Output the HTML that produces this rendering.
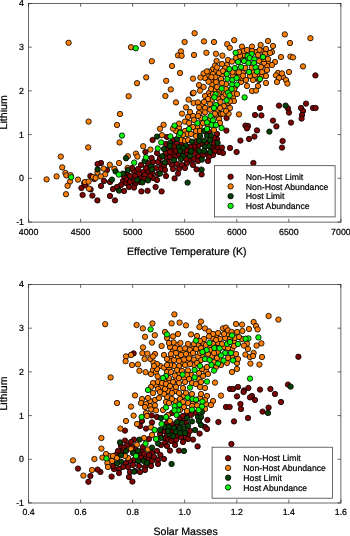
<!DOCTYPE html>
<html><head><meta charset="utf-8"><title>Lithium plots</title>
<style>html,body{margin:0;padding:0;background:#fff}svg{display:block;will-change:transform}</style></head>
<body>
<svg width="350" height="536" viewBox="0 0 350 536">
<style>
text{font-family:"Liberation Sans",sans-serif;fill:#000;stroke:#000;stroke-width:0.22px;text-rendering:geometricPrecision}
.txt{opacity:0.999}
.tk{font-size:8.8px}.lt{font-size:8.7px}.ax{font-size:10.6px}
circle{stroke:#000;stroke-width:0.8}
</style>
<rect width="350" height="536" fill="#fff" stroke="none"/>
<g><g fill="#7f0505"><circle cx="209.0" cy="132.0" r="2.7"/><circle cx="173.0" cy="140.0" r="2.7"/><circle cx="207.0" cy="143.0" r="2.7"/><circle cx="166.0" cy="144.0" r="2.7"/><circle cx="181.0" cy="144.0" r="2.7"/><circle cx="201.0" cy="144.0" r="2.7"/><circle cx="198.0" cy="146.0" r="2.7"/><circle cx="215.0" cy="147.0" r="2.7"/><circle cx="218.0" cy="148.0" r="2.7"/><circle cx="168.0" cy="149.0" r="2.7"/><circle cx="172.0" cy="149.0" r="2.7"/><circle cx="196.0" cy="149.0" r="2.7"/><circle cx="184.0" cy="152.0" r="2.7"/><circle cx="173.0" cy="154.0" r="2.7"/><circle cx="187.0" cy="154.0" r="2.7"/><circle cx="207.0" cy="154.0" r="2.7"/><circle cx="166.0" cy="157.0" r="2.7"/><circle cx="170.0" cy="157.0" r="2.7"/><circle cx="190.0" cy="160.0" r="2.7"/><circle cx="153.0" cy="162.0" r="2.7"/><circle cx="161.0" cy="164.0" r="2.7"/><circle cx="172.0" cy="165.0" r="2.7"/><circle cx="164.0" cy="166.0" r="2.7"/><circle cx="134.0" cy="171.0" r="2.7"/><circle cx="148.0" cy="171.0" r="2.7"/><circle cx="143.0" cy="172.0" r="2.7"/><circle cx="152.0" cy="173.0" r="2.7"/><circle cx="127.0" cy="174.0" r="2.7"/><circle cx="141.0" cy="177.0" r="2.7"/><circle cx="123.0" cy="181.0" r="2.7"/><circle cx="126.0" cy="183.0" r="2.7"/><circle cx="135.0" cy="184.0" r="2.7"/><circle cx="90.4" cy="176.0" r="2.7"/><circle cx="94.4" cy="179.0" r="2.7"/><circle cx="84.2" cy="183.0" r="2.7"/><circle cx="81.4" cy="188.0" r="2.7"/><circle cx="85.4" cy="185.2" r="2.7"/><circle cx="90.6" cy="189.4" r="2.7"/><circle cx="82.6" cy="195.0" r="2.7"/><circle cx="92.4" cy="195.6" r="2.7"/><circle cx="152.6" cy="140.0" r="2.7"/><circle cx="145.4" cy="152.0" r="2.7"/><circle cx="151.6" cy="158.0" r="2.7"/><circle cx="157.0" cy="153.0" r="2.7"/><circle cx="166.0" cy="153.0" r="2.7"/><circle cx="101.0" cy="163.0" r="2.7"/><circle cx="107.0" cy="170.0" r="2.7"/><circle cx="104.0" cy="181.0" r="2.7"/><circle cx="101.0" cy="186.0" r="2.7"/><circle cx="110.0" cy="182.0" r="2.7"/><circle cx="113.0" cy="189.0" r="2.7"/><circle cx="110.0" cy="196.0" r="2.7"/><circle cx="115.0" cy="200.4" r="2.7"/><circle cx="124.0" cy="191.0" r="2.7"/><circle cx="121.0" cy="185.0" r="2.7"/><circle cx="117.0" cy="187.0" r="2.7"/><circle cx="126.0" cy="179.0" r="2.7"/><circle cx="130.0" cy="176.0" r="2.7"/><circle cx="124.0" cy="176.0" r="2.7"/><circle cx="129.0" cy="187.0" r="2.7"/><circle cx="134.0" cy="187.6" r="2.7"/><circle cx="133.0" cy="181.0" r="2.7"/><circle cx="141.4" cy="191.4" r="2.7"/><circle cx="147.6" cy="190.8" r="2.7"/><circle cx="155.6" cy="187.0" r="2.7"/><circle cx="161.6" cy="191.4" r="2.7"/><circle cx="157.0" cy="180.0" r="2.7"/><circle cx="153.0" cy="178.0" r="2.7"/><circle cx="145.0" cy="175.0" r="2.7"/><circle cx="139.0" cy="174.0" r="2.7"/><circle cx="141.0" cy="165.0" r="2.7"/><circle cx="138.0" cy="169.0" r="2.7"/><circle cx="132.0" cy="168.0" r="2.7"/><circle cx="146.0" cy="168.0" r="2.7"/><circle cx="158.0" cy="162.0" r="2.7"/><circle cx="156.0" cy="168.0" r="2.7"/><circle cx="161.0" cy="169.0" r="2.7"/><circle cx="165.0" cy="170.0" r="2.7"/><circle cx="160.0" cy="158.0" r="2.7"/><circle cx="148.0" cy="163.0" r="2.7"/><circle cx="144.0" cy="179.0" r="2.7"/><circle cx="150.0" cy="176.0" r="2.7"/><circle cx="135.0" cy="176.0" r="2.7"/><circle cx="130.0" cy="182.0" r="2.7"/><circle cx="140.0" cy="182.0" r="2.7"/><circle cx="158.0" cy="174.0" r="2.7"/><circle cx="166.0" cy="176.0" r="2.7"/><circle cx="192.8" cy="93.4" r="2.7"/><circle cx="226.6" cy="118.0" r="2.7"/><circle cx="226.4" cy="130.6" r="2.7"/><circle cx="217.0" cy="134.0" r="2.7"/><circle cx="217.0" cy="139.0" r="2.7"/><circle cx="214.0" cy="143.0" r="2.7"/><circle cx="222.0" cy="147.6" r="2.7"/><circle cx="230.0" cy="148.0" r="2.7"/><circle cx="219.0" cy="152.0" r="2.7"/><circle cx="223.0" cy="153.0" r="2.7"/><circle cx="215.0" cy="151.0" r="2.7"/><circle cx="211.0" cy="147.0" r="2.7"/><circle cx="213.0" cy="155.0" r="2.7"/><circle cx="209.0" cy="157.0" r="2.7"/><circle cx="208.0" cy="161.0" r="2.7"/><circle cx="198.0" cy="156.0" r="2.7"/><circle cx="195.0" cy="153.0" r="2.7"/><circle cx="194.0" cy="159.0" r="2.7"/><circle cx="198.0" cy="161.0" r="2.7"/><circle cx="193.0" cy="165.0" r="2.7"/><circle cx="187.0" cy="163.0" r="2.7"/><circle cx="186.0" cy="159.0" r="2.7"/><circle cx="178.0" cy="155.0" r="2.7"/><circle cx="175.0" cy="157.0" r="2.7"/><circle cx="170.0" cy="152.0" r="2.7"/><circle cx="176.0" cy="151.0" r="2.7"/><circle cx="177.0" cy="164.0" r="2.7"/><circle cx="182.0" cy="165.0" r="2.7"/><circle cx="185.0" cy="168.0" r="2.7"/><circle cx="179.0" cy="169.0" r="2.7"/><circle cx="173.0" cy="169.0" r="2.7"/><circle cx="178.0" cy="173.6" r="2.7"/><circle cx="174.6" cy="178.4" r="2.7"/><circle cx="196.6" cy="169.4" r="2.7"/><circle cx="201.6" cy="174.4" r="2.7"/><circle cx="194.0" cy="146.0" r="2.7"/><circle cx="196.0" cy="142.0" r="2.7"/><circle cx="187.0" cy="150.0" r="2.7"/><circle cx="174.0" cy="146.0" r="2.7"/><circle cx="177.0" cy="143.0" r="2.7"/><circle cx="214.0" cy="138.0" r="2.7"/><circle cx="203.0" cy="155.0" r="2.7"/><circle cx="190.0" cy="147.0" r="2.7"/><circle cx="260.0" cy="108.0" r="2.7"/><circle cx="279.0" cy="105.6" r="2.7"/><circle cx="301.0" cy="108.0" r="2.7"/><circle cx="306.0" cy="103.6" r="2.7"/><circle cx="315.4" cy="75.4" r="2.7"/><circle cx="313.0" cy="108.0" r="2.7"/><circle cx="315.6" cy="108.0" r="2.7"/><circle cx="288.0" cy="108.4" r="2.7"/><circle cx="289.0" cy="112.6" r="2.7"/><circle cx="303.0" cy="111.0" r="2.7"/><circle cx="302.0" cy="115.0" r="2.7"/><circle cx="301.6" cy="118.6" r="2.7"/><circle cx="255.0" cy="115.0" r="2.7"/><circle cx="261.4" cy="115.4" r="2.7"/><circle cx="273.0" cy="120.6" r="2.7"/><circle cx="291.0" cy="122.6" r="2.7"/><circle cx="276.4" cy="126.4" r="2.7"/><circle cx="245.4" cy="125.6" r="2.7"/><circle cx="248.0" cy="126.0" r="2.7"/><circle cx="247.0" cy="128.4" r="2.7"/><circle cx="257.0" cy="130.4" r="2.7"/><circle cx="254.4" cy="136.6" r="2.7"/><circle cx="249.0" cy="139.0" r="2.7"/><circle cx="240.4" cy="140.6" r="2.7"/><circle cx="282.6" cy="141.0" r="2.7"/><circle cx="282.0" cy="147.6" r="2.7"/><circle cx="253.4" cy="163.0" r="2.7"/><circle cx="97.4" cy="200.4" r="2.7"/><circle cx="97.6" cy="164.0" r="2.7"/><circle cx="167.0" cy="137.0" r="2.7"/><circle cx="236.6" cy="152.0" r="2.7"/><circle cx="168.0" cy="162.0" r="2.7"/></g>
<g fill="#fb7f08"><circle cx="263.0" cy="51.0" r="2.7"/><circle cx="256.0" cy="52.0" r="2.7"/><circle cx="244.0" cy="55.0" r="2.7"/><circle cx="236.0" cy="58.0" r="2.7"/><circle cx="259.0" cy="61.0" r="2.7"/><circle cx="268.0" cy="63.0" r="2.7"/><circle cx="227.0" cy="65.0" r="2.7"/><circle cx="267.0" cy="66.0" r="2.7"/><circle cx="225.0" cy="68.0" r="2.7"/><circle cx="213.0" cy="69.0" r="2.7"/><circle cx="216.0" cy="71.0" r="2.7"/><circle cx="253.0" cy="72.0" r="2.7"/><circle cx="208.0" cy="75.0" r="2.7"/><circle cx="222.0" cy="75.0" r="2.7"/><circle cx="259.0" cy="75.0" r="2.7"/><circle cx="233.0" cy="76.0" r="2.7"/><circle cx="262.0" cy="76.0" r="2.7"/><circle cx="283.0" cy="77.0" r="2.7"/><circle cx="205.0" cy="78.0" r="2.7"/><circle cx="241.0" cy="82.0" r="2.7"/><circle cx="212.0" cy="84.0" r="2.7"/><circle cx="226.0" cy="84.0" r="2.7"/><circle cx="215.0" cy="90.0" r="2.7"/><circle cx="223.0" cy="92.0" r="2.7"/><circle cx="209.0" cy="93.0" r="2.7"/><circle cx="210.0" cy="96.0" r="2.7"/><circle cx="233.0" cy="97.0" r="2.7"/><circle cx="218.0" cy="98.0" r="2.7"/><circle cx="212.0" cy="100.0" r="2.7"/><circle cx="202.0" cy="105.0" r="2.7"/><circle cx="202.0" cy="110.0" r="2.7"/><circle cx="217.0" cy="110.0" r="2.7"/><circle cx="193.0" cy="116.0" r="2.7"/><circle cx="200.0" cy="126.0" r="2.7"/><circle cx="197.0" cy="127.0" r="2.7"/><circle cx="179.0" cy="128.0" r="2.7"/><circle cx="176.0" cy="131.0" r="2.7"/><circle cx="185.0" cy="131.0" r="2.7"/><circle cx="196.0" cy="131.0" r="2.7"/><circle cx="187.0" cy="134.0" r="2.7"/><circle cx="68.6" cy="42.8" r="2.7"/><circle cx="88.6" cy="121.6" r="2.7"/><circle cx="88.2" cy="147.4" r="2.7"/><circle cx="60.8" cy="156.6" r="2.7"/><circle cx="62.2" cy="167.4" r="2.7"/><circle cx="65.4" cy="173.0" r="2.7"/><circle cx="66.4" cy="175.4" r="2.7"/><circle cx="70.6" cy="175.2" r="2.7"/><circle cx="56.6" cy="176.4" r="2.7"/><circle cx="46.6" cy="179.4" r="2.7"/><circle cx="78.0" cy="179.6" r="2.7"/><circle cx="70.0" cy="181.6" r="2.7"/><circle cx="67.6" cy="185.8" r="2.7"/><circle cx="66.0" cy="194.2" r="2.7"/><circle cx="93.0" cy="177.0" r="2.7"/><circle cx="95.6" cy="178.0" r="2.7"/><circle cx="85.0" cy="182.0" r="2.7"/><circle cx="88.6" cy="181.6" r="2.7"/><circle cx="89.0" cy="188.6" r="2.7"/><circle cx="131.0" cy="47.2" r="2.7"/><circle cx="142.8" cy="43.8" r="2.7"/><circle cx="151.8" cy="61.2" r="2.7"/><circle cx="146.2" cy="77.4" r="2.7"/><circle cx="137.0" cy="83.2" r="2.7"/><circle cx="128.6" cy="96.2" r="2.7"/><circle cx="166.2" cy="80.8" r="2.7"/><circle cx="165.4" cy="96.0" r="2.7"/><circle cx="120.0" cy="114.0" r="2.7"/><circle cx="117.0" cy="125.0" r="2.7"/><circle cx="119.6" cy="142.4" r="2.7"/><circle cx="163.6" cy="124.8" r="2.7"/><circle cx="160.0" cy="128.8" r="2.7"/><circle cx="162.0" cy="135.2" r="2.7"/><circle cx="143.2" cy="146.2" r="2.7"/><circle cx="150.4" cy="149.6" r="2.7"/><circle cx="136.0" cy="153.6" r="2.7"/><circle cx="137.4" cy="156.6" r="2.7"/><circle cx="127.8" cy="156.2" r="2.7"/><circle cx="119.0" cy="163.0" r="2.7"/><circle cx="109.8" cy="164.8" r="2.7"/><circle cx="103.6" cy="168.6" r="2.7"/><circle cx="114.4" cy="168.8" r="2.7"/><circle cx="105.2" cy="174.4" r="2.7"/><circle cx="100.8" cy="176.4" r="2.7"/><circle cx="127.6" cy="168.0" r="2.7"/><circle cx="194.6" cy="33.2" r="2.7"/><circle cx="184.6" cy="42.0" r="2.7"/><circle cx="204.0" cy="41.4" r="2.7"/><circle cx="214.0" cy="42.0" r="2.7"/><circle cx="234.2" cy="40.2" r="2.7"/><circle cx="227.2" cy="44.2" r="2.7"/><circle cx="229.8" cy="47.8" r="2.7"/><circle cx="181.0" cy="51.4" r="2.7"/><circle cx="178.0" cy="55.4" r="2.7"/><circle cx="181.6" cy="55.8" r="2.7"/><circle cx="194.0" cy="55.0" r="2.7"/><circle cx="206.4" cy="52.8" r="2.7"/><circle cx="216.0" cy="53.8" r="2.7"/><circle cx="222.4" cy="55.6" r="2.7"/><circle cx="172.0" cy="66.0" r="2.7"/><circle cx="180.0" cy="73.0" r="2.7"/><circle cx="170.8" cy="89.4" r="2.7"/><circle cx="193.0" cy="78.6" r="2.7"/><circle cx="193.6" cy="92.8" r="2.7"/><circle cx="176.0" cy="102.4" r="2.7"/><circle cx="188.6" cy="99.6" r="2.7"/><circle cx="186.0" cy="107.4" r="2.7"/><circle cx="193.6" cy="103.0" r="2.7"/><circle cx="198.0" cy="102.4" r="2.7"/><circle cx="203.6" cy="73.4" r="2.7"/><circle cx="200.4" cy="77.6" r="2.7"/><circle cx="209.0" cy="71.6" r="2.7"/><circle cx="213.0" cy="74.0" r="2.7"/><circle cx="219.0" cy="73.0" r="2.7"/><circle cx="211.0" cy="80.0" r="2.7"/><circle cx="216.0" cy="82.0" r="2.7"/><circle cx="221.0" cy="79.0" r="2.7"/><circle cx="216.6" cy="61.0" r="2.7"/><circle cx="215.0" cy="65.6" r="2.7"/><circle cx="222.0" cy="64.0" r="2.7"/><circle cx="217.0" cy="67.4" r="2.7"/><circle cx="228.0" cy="60.0" r="2.7"/><circle cx="232.0" cy="61.6" r="2.7"/><circle cx="199.0" cy="85.0" r="2.7"/><circle cx="203.6" cy="87.0" r="2.7"/><circle cx="200.0" cy="90.6" r="2.7"/><circle cx="205.0" cy="96.0" r="2.7"/><circle cx="211.0" cy="89.0" r="2.7"/><circle cx="213.0" cy="94.0" r="2.7"/><circle cx="208.0" cy="99.0" r="2.7"/><circle cx="204.0" cy="102.0" r="2.7"/><circle cx="199.0" cy="107.4" r="2.7"/><circle cx="205.0" cy="108.0" r="2.7"/><circle cx="210.0" cy="104.0" r="2.7"/><circle cx="217.0" cy="87.0" r="2.7"/><circle cx="222.0" cy="83.0" r="2.7"/><circle cx="219.0" cy="92.0" r="2.7"/><circle cx="223.0" cy="97.0" r="2.7"/><circle cx="220.4" cy="102.0" r="2.7"/><circle cx="224.0" cy="106.0" r="2.7"/><circle cx="228.0" cy="103.0" r="2.7"/><circle cx="220.0" cy="108.0" r="2.7"/><circle cx="226.0" cy="89.0" r="2.7"/><circle cx="236.0" cy="72.0" r="2.7"/><circle cx="235.0" cy="87.0" r="2.7"/><circle cx="234.0" cy="101.0" r="2.7"/><circle cx="230.0" cy="108.0" r="2.7"/><circle cx="225.0" cy="72.0" r="2.7"/><circle cx="182.0" cy="113.6" r="2.7"/><circle cx="190.0" cy="112.0" r="2.7"/><circle cx="199.0" cy="113.0" r="2.7"/><circle cx="205.0" cy="112.4" r="2.7"/><circle cx="221.0" cy="114.0" r="2.7"/><circle cx="188.0" cy="117.0" r="2.7"/><circle cx="194.0" cy="120.0" r="2.7"/><circle cx="185.0" cy="121.6" r="2.7"/><circle cx="179.0" cy="123.6" r="2.7"/><circle cx="173.0" cy="128.6" r="2.7"/><circle cx="193.0" cy="127.0" r="2.7"/><circle cx="200.0" cy="131.0" r="2.7"/><circle cx="191.0" cy="134.0" r="2.7"/><circle cx="196.0" cy="136.0" r="2.7"/><circle cx="183.0" cy="135.0" r="2.7"/><circle cx="181.0" cy="140.0" r="2.7"/><circle cx="185.0" cy="141.0" r="2.7"/><circle cx="188.0" cy="140.0" r="2.7"/><circle cx="214.0" cy="130.0" r="2.7"/><circle cx="219.0" cy="119.0" r="2.7"/><circle cx="220.0" cy="123.0" r="2.7"/><circle cx="216.0" cy="115.0" r="2.7"/><circle cx="210.0" cy="119.0" r="2.7"/><circle cx="201.0" cy="118.0" r="2.7"/><circle cx="203.0" cy="123.0" r="2.7"/><circle cx="208.0" cy="126.0" r="2.7"/><circle cx="189.0" cy="123.0" r="2.7"/><circle cx="198.0" cy="116.0" r="2.7"/><circle cx="180.0" cy="132.4" r="2.7"/><circle cx="284.8" cy="34.4" r="2.7"/><circle cx="290.0" cy="43.0" r="2.7"/><circle cx="268.0" cy="41.0" r="2.7"/><circle cx="273.0" cy="46.0" r="2.7"/><circle cx="260.6" cy="45.0" r="2.7"/><circle cx="252.0" cy="46.6" r="2.7"/><circle cx="242.0" cy="46.6" r="2.7"/><circle cx="266.0" cy="49.0" r="2.7"/><circle cx="259.6" cy="50.0" r="2.7"/><circle cx="272.0" cy="52.0" r="2.7"/><circle cx="281.0" cy="57.0" r="2.7"/><circle cx="290.4" cy="56.6" r="2.7"/><circle cx="293.0" cy="57.4" r="2.7"/><circle cx="303.0" cy="66.4" r="2.7"/><circle cx="275.0" cy="62.0" r="2.7"/><circle cx="272.0" cy="65.0" r="2.7"/><circle cx="264.0" cy="63.0" r="2.7"/><circle cx="267.0" cy="70.0" r="2.7"/><circle cx="266.0" cy="76.0" r="2.7"/><circle cx="266.0" cy="83.0" r="2.7"/><circle cx="278.0" cy="73.0" r="2.7"/><circle cx="282.0" cy="73.4" r="2.7"/><circle cx="289.0" cy="72.0" r="2.7"/><circle cx="276.0" cy="75.4" r="2.7"/><circle cx="279.0" cy="78.0" r="2.7"/><circle cx="286.0" cy="80.0" r="2.7"/><circle cx="287.4" cy="83.6" r="2.7"/><circle cx="277.0" cy="82.0" r="2.7"/><circle cx="259.0" cy="80.0" r="2.7"/><circle cx="258.0" cy="86.0" r="2.7"/><circle cx="252.0" cy="91.0" r="2.7"/><circle cx="256.0" cy="90.6" r="2.7"/><circle cx="247.0" cy="86.0" r="2.7"/><circle cx="246.0" cy="80.0" r="2.7"/><circle cx="241.0" cy="78.0" r="2.7"/><circle cx="253.0" cy="80.0" r="2.7"/><circle cx="244.0" cy="51.0" r="2.7"/><circle cx="240.0" cy="56.0" r="2.7"/><circle cx="247.0" cy="50.0" r="2.7"/><circle cx="243.0" cy="60.0" r="2.7"/><circle cx="261.0" cy="67.0" r="2.7"/><circle cx="264.0" cy="59.0" r="2.7"/><circle cx="268.0" cy="59.0" r="2.7"/><circle cx="258.0" cy="55.0" r="2.7"/><circle cx="265.0" cy="54.0" r="2.7"/><circle cx="252.0" cy="51.0" r="2.7"/><circle cx="262.0" cy="72.0" r="2.7"/><circle cx="250.0" cy="76.0" r="2.7"/><circle cx="243.0" cy="73.0" r="2.7"/><circle cx="255.0" cy="75.0" r="2.7"/><circle cx="270.0" cy="53.0" r="2.7"/><circle cx="310.4" cy="38.2" r="2.7"/><circle cx="232.6" cy="72.0" r="2.7"/><circle cx="238.9" cy="77.1" r="2.7"/><circle cx="234.3" cy="89.1" r="2.7"/><circle cx="233.7" cy="93.4" r="2.7"/><circle cx="215.4" cy="77.1" r="2.7"/><circle cx="208.6" cy="81.7" r="2.7"/><circle cx="229.9" cy="101.4" r="2.7"/><circle cx="210.1" cy="109.7" r="2.7"/><circle cx="222.9" cy="70.9" r="2.7"/><circle cx="211.4" cy="77.1" r="2.7"/><circle cx="206.9" cy="71.4" r="2.7"/><circle cx="225.7" cy="94.3" r="2.7"/><circle cx="217.7" cy="94.3" r="2.7"/><circle cx="222.9" cy="113.7" r="2.7"/><circle cx="228.6" cy="113.7" r="2.7"/><circle cx="214.9" cy="113.7" r="2.7"/><circle cx="245.1" cy="67.9" r="2.7"/><circle cx="252.0" cy="67.7" r="2.7"/><circle cx="242.9" cy="75.7" r="2.7"/><circle cx="238.9" cy="72.3" r="2.7"/><circle cx="97.4" cy="172.4" r="2.7"/><circle cx="237.0" cy="94.0" r="2.7"/><circle cx="226.0" cy="111.0" r="2.7"/><circle cx="239.0" cy="52.0" r="2.7"/><circle cx="239.0" cy="114.4" r="2.7"/></g>
<g fill="#064206"><circle cx="157.0" cy="136.6" r="2.7"/><circle cx="126.0" cy="158.2" r="2.7"/><circle cx="164.0" cy="149.0" r="2.7"/><circle cx="162.4" cy="156.0" r="2.7"/><circle cx="164.8" cy="162.4" r="2.7"/><circle cx="151.0" cy="166.4" r="2.7"/><circle cx="152.0" cy="169.4" r="2.7"/><circle cx="144.6" cy="161.0" r="2.7"/><circle cx="128.0" cy="170.0" r="2.7"/><circle cx="115.6" cy="171.4" r="2.7"/><circle cx="112.0" cy="179.6" r="2.7"/><circle cx="123.0" cy="173.6" r="2.7"/><circle cx="137.0" cy="180.0" r="2.7"/><circle cx="142.4" cy="182.4" r="2.7"/><circle cx="148.0" cy="180.4" r="2.7"/><circle cx="160.0" cy="173.6" r="2.7"/><circle cx="119.0" cy="190.6" r="2.7"/><circle cx="204.0" cy="131.0" r="2.7"/><circle cx="200.0" cy="136.0" r="2.7"/><circle cx="207.0" cy="135.6" r="2.7"/><circle cx="211.0" cy="135.6" r="2.7"/><circle cx="199.0" cy="141.0" r="2.7"/><circle cx="204.0" cy="140.6" r="2.7"/><circle cx="210.0" cy="140.0" r="2.7"/><circle cx="192.0" cy="141.6" r="2.7"/><circle cx="177.0" cy="139.0" r="2.7"/><circle cx="170.0" cy="143.0" r="2.7"/><circle cx="170.0" cy="146.0" r="2.7"/><circle cx="186.0" cy="145.6" r="2.7"/><circle cx="179.0" cy="147.0" r="2.7"/><circle cx="183.0" cy="148.0" r="2.7"/><circle cx="180.0" cy="151.0" r="2.7"/><circle cx="191.0" cy="151.0" r="2.7"/><circle cx="199.0" cy="151.0" r="2.7"/><circle cx="205.0" cy="147.0" r="2.7"/><circle cx="204.0" cy="151.0" r="2.7"/><circle cx="209.0" cy="146.0" r="2.7"/><circle cx="210.0" cy="152.0" r="2.7"/><circle cx="183.0" cy="156.0" r="2.7"/><circle cx="181.0" cy="159.0" r="2.7"/><circle cx="174.0" cy="160.0" r="2.7"/><circle cx="190.0" cy="156.0" r="2.7"/><circle cx="202.0" cy="159.6" r="2.7"/><circle cx="201.6" cy="169.6" r="2.7"/><circle cx="187.6" cy="182.6" r="2.7"/><circle cx="217.6" cy="143.0" r="2.7"/><circle cx="285.6" cy="105.6" r="2.7"/><circle cx="269.4" cy="131.6" r="2.7"/><circle cx="97.6" cy="169.4" r="2.7"/></g>
<g fill="#0cf50c"><circle cx="71.2" cy="177.2" r="2.7"/><circle cx="135.8" cy="48.2" r="2.7"/><circle cx="122.0" cy="135.6" r="2.7"/><circle cx="161.2" cy="142.4" r="2.7"/><circle cx="157.8" cy="148.4" r="2.7"/><circle cx="146.0" cy="157.4" r="2.7"/><circle cx="134.2" cy="162.6" r="2.7"/><circle cx="118.8" cy="174.6" r="2.7"/><circle cx="235.6" cy="52.8" r="2.7"/><circle cx="229.4" cy="69.0" r="2.7"/><circle cx="235.0" cy="68.0" r="2.7"/><circle cx="226.8" cy="74.0" r="2.7"/><circle cx="227.4" cy="79.0" r="2.7"/><circle cx="232.4" cy="80.0" r="2.7"/><circle cx="232.0" cy="84.6" r="2.7"/><circle cx="221.6" cy="88.6" r="2.7"/><circle cx="231.6" cy="89.0" r="2.7"/><circle cx="228.0" cy="92.6" r="2.7"/><circle cx="215.6" cy="94.4" r="2.7"/><circle cx="229.6" cy="95.4" r="2.7"/><circle cx="214.4" cy="97.4" r="2.7"/><circle cx="226.6" cy="100.4" r="2.7"/><circle cx="216.0" cy="105.0" r="2.7"/><circle cx="214.0" cy="108.0" r="2.7"/><circle cx="210.6" cy="116.0" r="2.7"/><circle cx="205.0" cy="118.4" r="2.7"/><circle cx="213.0" cy="120.4" r="2.7"/><circle cx="207.0" cy="122.4" r="2.7"/><circle cx="197.4" cy="123.2" r="2.7"/><circle cx="211.6" cy="125.0" r="2.7"/><circle cx="216.0" cy="125.0" r="2.7"/><circle cx="174.6" cy="125.6" r="2.7"/><circle cx="189.0" cy="129.0" r="2.7"/><circle cx="207.0" cy="129.0" r="2.7"/><circle cx="221.6" cy="128.0" r="2.7"/><circle cx="179.0" cy="135.0" r="2.7"/><circle cx="170.4" cy="136.4" r="2.7"/><circle cx="251.6" cy="54.0" r="2.7"/><circle cx="263.0" cy="57.0" r="2.7"/><circle cx="247.6" cy="56.0" r="2.7"/><circle cx="249.6" cy="58.0" r="2.7"/><circle cx="254.4" cy="59.4" r="2.7"/><circle cx="244.0" cy="61.0" r="2.7"/><circle cx="248.4" cy="63.0" r="2.7"/><circle cx="254.0" cy="63.0" r="2.7"/><circle cx="241.0" cy="67.0" r="2.7"/><circle cx="255.6" cy="67.4" r="2.7"/><circle cx="249.0" cy="72.0" r="2.7"/><circle cx="257.0" cy="71.6" r="2.7"/><circle cx="260.0" cy="79.0" r="2.7"/><circle cx="244.6" cy="97.4" r="2.7"/><circle cx="180.2" cy="132.9" r="2.7"/><circle cx="238.0" cy="62.0" r="2.7"/><circle cx="236.6" cy="78.0" r="2.7"/><circle cx="237.0" cy="84.6" r="2.7"/></g></g>
<rect x="28.6" y="3.5" width="312.3" height="218.6" fill="none" stroke="#333" stroke-width="0.75"/>
<path d="M28.6 222.1v-3.3M28.6 3.5v3.3M80.6 222.1v-3.3M80.6 3.5v3.3M132.7 222.1v-3.3M132.7 3.5v3.3M184.7 222.1v-3.3M184.7 3.5v3.3M236.8 222.1v-3.3M236.8 3.5v3.3M288.8 222.1v-3.3M288.8 3.5v3.3M340.9 222.1v-3.3M340.9 3.5v3.3M28.6 222.1h3.3M340.9 222.1h-3.3M28.6 178.3h3.3M340.9 178.3h-3.3M28.6 134.6h3.3M340.9 134.6h-3.3M28.6 90.9h3.3M340.9 90.9h-3.3M28.6 47.2h3.3M340.9 47.2h-3.3M28.6 3.5h3.3M340.9 3.5h-3.3" stroke="#2a2a2a" stroke-width="0.7" fill="none"/>
<text x="28.6" y="234.5" text-anchor="middle" class="tk">4000</text>
<text x="80.6" y="234.5" text-anchor="middle" class="tk">4500</text>
<text x="132.7" y="234.5" text-anchor="middle" class="tk">5000</text>
<text x="184.7" y="234.5" text-anchor="middle" class="tk">5500</text>
<text x="236.8" y="234.5" text-anchor="middle" class="tk">6000</text>
<text x="288.8" y="234.5" text-anchor="middle" class="tk">6500</text>
<text x="340.9" y="234.5" text-anchor="middle" class="tk">7000</text>
<text x="24.0" y="225.0" text-anchor="end" class="tk">-1</text>
<text x="24.0" y="181.2" text-anchor="end" class="tk">0</text>
<text x="24.0" y="137.5" text-anchor="end" class="tk">1</text>
<text x="24.0" y="93.8" text-anchor="end" class="tk">2</text>
<text x="24.0" y="50.1" text-anchor="end" class="tk">3</text>
<text x="24.0" y="6.4" text-anchor="end" class="tk">4</text>
<rect x="214.6" y="165.7" width="120.5" height="51.2" fill="#fff" stroke="#333" stroke-width="0.75"/>
<circle cx="230.6" cy="176.7" r="2.7" fill="#7f0505" class="lg"/>
<text x="245.8" y="179.8" class="lt">Non-Host Limit</text>
<circle cx="230.6" cy="186.4" r="2.7" fill="#fb7f08" class="lg"/>
<text x="245.8" y="189.5" class="lt">Non-Host Abundance</text>
<circle cx="230.6" cy="196.2" r="2.7" fill="#064206" class="lg"/>
<text x="245.8" y="199.3" class="lt">Host Limit</text>
<circle cx="230.6" cy="205.9" r="2.7" fill="#0cf50c" class="lg"/>
<text x="245.8" y="209.0" class="lt">Host Abundance</text>
<text x="186.8" y="254.8" text-anchor="middle" class="ax">Effective Temperature (K)</text>
<text transform="translate(7.4 112.3) rotate(-90)" text-anchor="middle" class="ax">Lithium</text>
<g><g fill="#7f0505"><circle cx="191.0" cy="415.0" r="2.7"/><circle cx="180.0" cy="418.0" r="2.7"/><circle cx="184.0" cy="420.0" r="2.7"/><circle cx="186.0" cy="423.0" r="2.7"/><circle cx="172.0" cy="424.0" r="2.7"/><circle cx="177.0" cy="426.0" r="2.7"/><circle cx="164.0" cy="431.0" r="2.7"/><circle cx="172.0" cy="431.0" r="2.7"/><circle cx="188.0" cy="435.0" r="2.7"/><circle cx="177.0" cy="436.0" r="2.7"/><circle cx="185.0" cy="437.0" r="2.7"/><circle cx="165.0" cy="438.0" r="2.7"/><circle cx="168.0" cy="439.0" r="2.7"/><circle cx="135.0" cy="449.0" r="2.7"/><circle cx="122.0" cy="451.0" r="2.7"/><circle cx="142.0" cy="451.0" r="2.7"/><circle cx="152.0" cy="453.0" r="2.7"/><circle cx="146.0" cy="457.0" r="2.7"/><circle cx="149.0" cy="459.0" r="2.7"/><circle cx="134.0" cy="460.0" r="2.7"/><circle cx="78.0" cy="468.6" r="2.7"/><circle cx="90.4" cy="476.0" r="2.7"/><circle cx="88.4" cy="481.8" r="2.7"/><circle cx="133.6" cy="353.4" r="2.7"/><circle cx="151.6" cy="415.4" r="2.7"/><circle cx="157.0" cy="417.0" r="2.7"/><circle cx="142.0" cy="421.0" r="2.7"/><circle cx="152.0" cy="422.4" r="2.7"/><circle cx="140.0" cy="426.0" r="2.7"/><circle cx="146.0" cy="428.6" r="2.7"/><circle cx="125.0" cy="430.6" r="2.7"/><circle cx="160.0" cy="434.0" r="2.7"/><circle cx="149.0" cy="439.0" r="2.7"/><circle cx="134.0" cy="439.6" r="2.7"/><circle cx="125.0" cy="440.6" r="2.7"/><circle cx="131.0" cy="442.0" r="2.7"/><circle cx="121.0" cy="446.0" r="2.7"/><circle cx="127.0" cy="445.4" r="2.7"/><circle cx="143.0" cy="447.0" r="2.7"/><circle cx="165.0" cy="443.0" r="2.7"/><circle cx="161.0" cy="445.0" r="2.7"/><circle cx="157.0" cy="451.0" r="2.7"/><circle cx="124.0" cy="448.0" r="2.7"/><circle cx="132.0" cy="447.0" r="2.7"/><circle cx="118.0" cy="451.0" r="2.7"/><circle cx="116.0" cy="455.0" r="2.7"/><circle cx="140.0" cy="455.0" r="2.7"/><circle cx="144.0" cy="454.0" r="2.7"/><circle cx="149.0" cy="455.0" r="2.7"/><circle cx="154.0" cy="457.0" r="2.7"/><circle cx="160.4" cy="455.0" r="2.7"/><circle cx="164.0" cy="459.0" r="2.7"/><circle cx="158.0" cy="460.0" r="2.7"/><circle cx="152.0" cy="461.0" r="2.7"/><circle cx="158.0" cy="464.0" r="2.7"/><circle cx="151.0" cy="466.0" r="2.7"/><circle cx="145.0" cy="467.0" r="2.7"/><circle cx="141.0" cy="458.0" r="2.7"/><circle cx="130.0" cy="461.0" r="2.7"/><circle cx="133.0" cy="465.0" r="2.7"/><circle cx="126.0" cy="463.0" r="2.7"/><circle cx="128.0" cy="467.0" r="2.7"/><circle cx="123.0" cy="467.0" r="2.7"/><circle cx="139.0" cy="466.0" r="2.7"/><circle cx="145.0" cy="470.0" r="2.7"/><circle cx="140.0" cy="472.0" r="2.7"/><circle cx="130.0" cy="472.0" r="2.7"/><circle cx="119.0" cy="469.0" r="2.7"/><circle cx="114.0" cy="469.0" r="2.7"/><circle cx="119.0" cy="473.0" r="2.7"/><circle cx="111.6" cy="476.6" r="2.7"/><circle cx="100.4" cy="472.0" r="2.7"/><circle cx="129.0" cy="477.0" r="2.7"/><circle cx="132.4" cy="481.6" r="2.7"/><circle cx="135.0" cy="471.0" r="2.7"/><circle cx="113.0" cy="466.0" r="2.7"/><circle cx="230.0" cy="389.0" r="2.7"/><circle cx="233.0" cy="389.0" r="2.7"/><circle cx="226.0" cy="407.0" r="2.7"/><circle cx="229.6" cy="407.0" r="2.7"/><circle cx="207.4" cy="420.0" r="2.7"/><circle cx="218.4" cy="422.0" r="2.7"/><circle cx="234.0" cy="421.4" r="2.7"/><circle cx="205.0" cy="427.0" r="2.7"/><circle cx="207.0" cy="429.0" r="2.7"/><circle cx="199.6" cy="433.6" r="2.7"/><circle cx="193.0" cy="439.6" r="2.7"/><circle cx="188.0" cy="439.0" r="2.7"/><circle cx="183.0" cy="442.0" r="2.7"/><circle cx="197.6" cy="446.4" r="2.7"/><circle cx="231.4" cy="444.0" r="2.7"/><circle cx="179.0" cy="450.6" r="2.7"/><circle cx="170.0" cy="450.6" r="2.7"/><circle cx="175.0" cy="445.0" r="2.7"/><circle cx="176.0" cy="440.0" r="2.7"/><circle cx="171.0" cy="441.0" r="2.7"/><circle cx="186.0" cy="415.0" r="2.7"/><circle cx="172.0" cy="413.0" r="2.7"/><circle cx="190.0" cy="431.0" r="2.7"/><circle cx="181.0" cy="437.0" r="2.7"/><circle cx="196.0" cy="413.0" r="2.7"/><circle cx="183.0" cy="416.0" r="2.7"/><circle cx="298.4" cy="356.8" r="2.7"/><circle cx="288.0" cy="384.6" r="2.7"/><circle cx="270.4" cy="389.0" r="2.7"/><circle cx="248.4" cy="388.0" r="2.7"/><circle cx="244.0" cy="390.4" r="2.7"/><circle cx="243.6" cy="392.0" r="2.7"/><circle cx="260.0" cy="389.6" r="2.7"/><circle cx="275.0" cy="394.0" r="2.7"/><circle cx="252.0" cy="396.0" r="2.7"/><circle cx="250.0" cy="397.4" r="2.7"/><circle cx="255.0" cy="400.0" r="2.7"/><circle cx="281.0" cy="402.0" r="2.7"/><circle cx="240.4" cy="404.0" r="2.7"/><circle cx="241.0" cy="409.0" r="2.7"/><circle cx="268.6" cy="407.6" r="2.7"/><circle cx="262.6" cy="411.6" r="2.7"/><circle cx="248.0" cy="418.0" r="2.7"/><circle cx="97.6" cy="469.6" r="2.7"/><circle cx="167.0" cy="423.0" r="2.7"/><circle cx="167.0" cy="435.0" r="2.7"/><circle cx="167.0" cy="446.0" r="2.7"/><circle cx="238.0" cy="387.0" r="2.7"/><circle cx="237.0" cy="396.4" r="2.7"/></g>
<g fill="#fb7f08"><circle cx="237.0" cy="332.0" r="2.7"/><circle cx="228.0" cy="334.0" r="2.7"/><circle cx="216.0" cy="336.0" r="2.7"/><circle cx="213.0" cy="338.0" r="2.7"/><circle cx="225.0" cy="338.0" r="2.7"/><circle cx="234.0" cy="342.0" r="2.7"/><circle cx="203.0" cy="343.0" r="2.7"/><circle cx="218.0" cy="343.0" r="2.7"/><circle cx="177.0" cy="345.0" r="2.7"/><circle cx="198.0" cy="345.0" r="2.7"/><circle cx="209.0" cy="347.0" r="2.7"/><circle cx="224.0" cy="347.0" r="2.7"/><circle cx="193.0" cy="348.0" r="2.7"/><circle cx="196.0" cy="349.0" r="2.7"/><circle cx="232.0" cy="349.0" r="2.7"/><circle cx="211.0" cy="350.0" r="2.7"/><circle cx="173.0" cy="351.0" r="2.7"/><circle cx="183.0" cy="352.0" r="2.7"/><circle cx="218.0" cy="352.0" r="2.7"/><circle cx="190.0" cy="355.0" r="2.7"/><circle cx="202.0" cy="356.0" r="2.7"/><circle cx="212.0" cy="356.0" r="2.7"/><circle cx="178.0" cy="357.0" r="2.7"/><circle cx="232.0" cy="357.0" r="2.7"/><circle cx="171.0" cy="358.0" r="2.7"/><circle cx="201.0" cy="360.0" r="2.7"/><circle cx="220.0" cy="360.0" r="2.7"/><circle cx="170.0" cy="361.0" r="2.7"/><circle cx="187.0" cy="362.0" r="2.7"/><circle cx="214.0" cy="362.0" r="2.7"/><circle cx="182.0" cy="363.0" r="2.7"/><circle cx="194.0" cy="365.0" r="2.7"/><circle cx="160.0" cy="366.0" r="2.7"/><circle cx="169.0" cy="369.0" r="2.7"/><circle cx="206.0" cy="371.0" r="2.7"/><circle cx="167.0" cy="372.0" r="2.7"/><circle cx="179.0" cy="373.0" r="2.7"/><circle cx="191.0" cy="375.0" r="2.7"/><circle cx="184.0" cy="378.0" r="2.7"/><circle cx="199.0" cy="379.0" r="2.7"/><circle cx="166.0" cy="380.0" r="2.7"/><circle cx="176.0" cy="380.0" r="2.7"/><circle cx="169.0" cy="382.0" r="2.7"/><circle cx="156.0" cy="385.0" r="2.7"/><circle cx="161.0" cy="387.0" r="2.7"/><circle cx="173.0" cy="389.0" r="2.7"/><circle cx="168.0" cy="391.0" r="2.7"/><circle cx="176.0" cy="391.0" r="2.7"/><circle cx="184.0" cy="396.0" r="2.7"/><circle cx="167.0" cy="397.0" r="2.7"/><circle cx="200.0" cy="398.0" r="2.7"/><circle cx="150.0" cy="401.0" r="2.7"/><circle cx="175.0" cy="401.0" r="2.7"/><circle cx="193.0" cy="403.0" r="2.7"/><circle cx="206.0" cy="404.0" r="2.7"/><circle cx="150.0" cy="406.0" r="2.7"/><circle cx="192.0" cy="406.0" r="2.7"/><circle cx="184.0" cy="407.0" r="2.7"/><circle cx="109.0" cy="456.0" r="2.7"/><circle cx="73.0" cy="460.4" r="2.7"/><circle cx="94.4" cy="459.0" r="2.7"/><circle cx="92.0" cy="470.0" r="2.7"/><circle cx="83.4" cy="475.6" r="2.7"/><circle cx="105.2" cy="324.2" r="2.7"/><circle cx="110.6" cy="377.4" r="2.7"/><circle cx="136.6" cy="325.0" r="2.7"/><circle cx="152.4" cy="323.4" r="2.7"/><circle cx="142.8" cy="328.4" r="2.7"/><circle cx="154.8" cy="335.2" r="2.7"/><circle cx="145.0" cy="336.8" r="2.7"/><circle cx="152.0" cy="342.6" r="2.7"/><circle cx="161.6" cy="346.0" r="2.7"/><circle cx="143.0" cy="347.4" r="2.7"/><circle cx="142.4" cy="353.2" r="2.7"/><circle cx="147.4" cy="353.6" r="2.7"/><circle cx="155.0" cy="354.0" r="2.7"/><circle cx="164.0" cy="355.0" r="2.7"/><circle cx="131.0" cy="355.0" r="2.7"/><circle cx="126.0" cy="356.4" r="2.7"/><circle cx="125.6" cy="361.2" r="2.7"/><circle cx="144.6" cy="359.0" r="2.7"/><circle cx="150.4" cy="359.0" r="2.7"/><circle cx="153.0" cy="356.4" r="2.7"/><circle cx="132.0" cy="365.0" r="2.7"/><circle cx="138.0" cy="364.4" r="2.7"/><circle cx="153.6" cy="362.6" r="2.7"/><circle cx="157.0" cy="364.0" r="2.7"/><circle cx="164.0" cy="367.6" r="2.7"/><circle cx="139.4" cy="370.8" r="2.7"/><circle cx="145.6" cy="372.2" r="2.7"/><circle cx="151.0" cy="374.0" r="2.7"/><circle cx="153.0" cy="370.0" r="2.7"/><circle cx="156.0" cy="372.0" r="2.7"/><circle cx="157.0" cy="369.0" r="2.7"/><circle cx="157.6" cy="376.4" r="2.7"/><circle cx="165.0" cy="332.0" r="2.7"/><circle cx="153.0" cy="383.0" r="2.7"/><circle cx="151.0" cy="387.0" r="2.7"/><circle cx="158.0" cy="382.0" r="2.7"/><circle cx="162.0" cy="383.0" r="2.7"/><circle cx="166.0" cy="384.0" r="2.7"/><circle cx="158.0" cy="389.0" r="2.7"/><circle cx="165.0" cy="389.0" r="2.7"/><circle cx="154.0" cy="366.0" r="2.7"/><circle cx="117.0" cy="403.0" r="2.7"/><circle cx="131.0" cy="406.6" r="2.7"/><circle cx="133.6" cy="415.6" r="2.7"/><circle cx="126.0" cy="421.0" r="2.7"/><circle cx="120.4" cy="428.6" r="2.7"/><circle cx="101.4" cy="438.0" r="2.7"/><circle cx="101.4" cy="448.6" r="2.7"/><circle cx="106.0" cy="454.0" r="2.7"/><circle cx="102.4" cy="457.6" r="2.7"/><circle cx="113.0" cy="456.0" r="2.7"/><circle cx="117.0" cy="458.0" r="2.7"/><circle cx="112.0" cy="461.0" r="2.7"/><circle cx="107.4" cy="463.0" r="2.7"/><circle cx="108.0" cy="467.0" r="2.7"/><circle cx="128.0" cy="458.0" r="2.7"/><circle cx="125.0" cy="456.0" r="2.7"/><circle cx="131.0" cy="449.0" r="2.7"/><circle cx="137.0" cy="444.6" r="2.7"/><circle cx="135.0" cy="395.4" r="2.7"/><circle cx="142.0" cy="399.0" r="2.7"/><circle cx="148.0" cy="398.0" r="2.7"/><circle cx="141.0" cy="403.0" r="2.7"/><circle cx="146.0" cy="404.0" r="2.7"/><circle cx="145.0" cy="407.0" r="2.7"/><circle cx="155.0" cy="400.0" r="2.7"/><circle cx="159.0" cy="398.0" r="2.7"/><circle cx="164.0" cy="394.0" r="2.7"/><circle cx="155.0" cy="405.4" r="2.7"/><circle cx="151.0" cy="409.4" r="2.7"/><circle cx="156.0" cy="410.4" r="2.7"/><circle cx="163.0" cy="410.0" r="2.7"/><circle cx="146.0" cy="413.0" r="2.7"/><circle cx="147.0" cy="416.0" r="2.7"/><circle cx="137.0" cy="424.0" r="2.7"/><circle cx="151.0" cy="427.4" r="2.7"/><circle cx="152.0" cy="435.0" r="2.7"/><circle cx="144.0" cy="438.0" r="2.7"/><circle cx="148.0" cy="449.4" r="2.7"/><circle cx="153.0" cy="393.0" r="2.7"/><circle cx="166.0" cy="402.0" r="2.7"/><circle cx="174.4" cy="314.4" r="2.7"/><circle cx="171.6" cy="323.4" r="2.7"/><circle cx="179.6" cy="322.6" r="2.7"/><circle cx="186.0" cy="325.4" r="2.7"/><circle cx="201.0" cy="321.6" r="2.7"/><circle cx="199.4" cy="327.0" r="2.7"/><circle cx="205.0" cy="328.4" r="2.7"/><circle cx="178.0" cy="334.0" r="2.7"/><circle cx="173.0" cy="336.4" r="2.7"/><circle cx="191.0" cy="334.4" r="2.7"/><circle cx="209.0" cy="331.4" r="2.7"/><circle cx="213.0" cy="334.0" r="2.7"/><circle cx="218.0" cy="333.0" r="2.7"/><circle cx="223.0" cy="328.4" r="2.7"/><circle cx="226.0" cy="327.6" r="2.7"/><circle cx="228.0" cy="330.4" r="2.7"/><circle cx="236.0" cy="324.0" r="2.7"/><circle cx="224.0" cy="334.0" r="2.7"/><circle cx="231.6" cy="332.0" r="2.7"/><circle cx="235.0" cy="338.0" r="2.7"/><circle cx="220.0" cy="339.0" r="2.7"/><circle cx="216.0" cy="340.0" r="2.7"/><circle cx="209.0" cy="336.4" r="2.7"/><circle cx="204.0" cy="339.0" r="2.7"/><circle cx="200.0" cy="341.0" r="2.7"/><circle cx="197.0" cy="336.0" r="2.7"/><circle cx="194.0" cy="344.0" r="2.7"/><circle cx="188.0" cy="344.0" r="2.7"/><circle cx="180.4" cy="343.0" r="2.7"/><circle cx="173.6" cy="342.4" r="2.7"/><circle cx="170.0" cy="347.0" r="2.7"/><circle cx="175.0" cy="348.0" r="2.7"/><circle cx="180.0" cy="349.0" r="2.7"/><circle cx="185.0" cy="348.4" r="2.7"/><circle cx="190.0" cy="350.0" r="2.7"/><circle cx="193.0" cy="353.0" r="2.7"/><circle cx="186.0" cy="354.0" r="2.7"/><circle cx="181.0" cy="355.0" r="2.7"/><circle cx="176.0" cy="353.0" r="2.7"/><circle cx="171.0" cy="354.0" r="2.7"/><circle cx="174.0" cy="360.0" r="2.7"/><circle cx="179.0" cy="361.0" r="2.7"/><circle cx="184.0" cy="359.6" r="2.7"/><circle cx="189.0" cy="358.4" r="2.7"/><circle cx="194.0" cy="359.6" r="2.7"/><circle cx="198.0" cy="356.4" r="2.7"/><circle cx="197.0" cy="363.0" r="2.7"/><circle cx="190.0" cy="364.0" r="2.7"/><circle cx="185.0" cy="365.0" r="2.7"/><circle cx="179.0" cy="366.0" r="2.7"/><circle cx="174.0" cy="366.0" r="2.7"/><circle cx="170.0" cy="365.0" r="2.7"/><circle cx="177.0" cy="370.0" r="2.7"/><circle cx="182.0" cy="371.0" r="2.7"/><circle cx="188.0" cy="370.4" r="2.7"/><circle cx="171.0" cy="372.0" r="2.7"/><circle cx="175.0" cy="375.6" r="2.7"/><circle cx="187.0" cy="375.0" r="2.7"/><circle cx="179.0" cy="378.0" r="2.7"/><circle cx="189.0" cy="379.0" r="2.7"/><circle cx="185.0" cy="382.0" r="2.7"/><circle cx="179.0" cy="383.0" r="2.7"/><circle cx="173.0" cy="382.0" r="2.7"/><circle cx="170.0" cy="386.0" r="2.7"/><circle cx="176.0" cy="387.0" r="2.7"/><circle cx="183.0" cy="388.0" r="2.7"/><circle cx="192.0" cy="383.0" r="2.7"/><circle cx="196.0" cy="384.0" r="2.7"/><circle cx="201.0" cy="382.0" r="2.7"/><circle cx="200.0" cy="387.0" r="2.7"/><circle cx="205.0" cy="388.0" r="2.7"/><circle cx="215.0" cy="382.6" r="2.7"/><circle cx="203.0" cy="376.0" r="2.7"/><circle cx="199.0" cy="373.0" r="2.7"/><circle cx="208.0" cy="374.0" r="2.7"/><circle cx="202.0" cy="369.0" r="2.7"/><circle cx="207.0" cy="367.0" r="2.7"/><circle cx="216.0" cy="367.0" r="2.7"/><circle cx="221.0" cy="365.0" r="2.7"/><circle cx="227.0" cy="363.0" r="2.7"/><circle cx="232.0" cy="372.0" r="2.7"/><circle cx="236.0" cy="354.0" r="2.7"/><circle cx="234.0" cy="346.0" r="2.7"/><circle cx="228.0" cy="348.0" r="2.7"/><circle cx="213.0" cy="344.0" r="2.7"/><circle cx="206.0" cy="345.0" r="2.7"/><circle cx="201.0" cy="348.0" r="2.7"/><circle cx="200.0" cy="353.0" r="2.7"/><circle cx="208.0" cy="354.0" r="2.7"/><circle cx="214.0" cy="353.0" r="2.7"/><circle cx="217.0" cy="358.0" r="2.7"/><circle cx="228.0" cy="358.0" r="2.7"/><circle cx="222.0" cy="344.0" r="2.7"/><circle cx="230.0" cy="339.0" r="2.7"/><circle cx="215.0" cy="347.6" r="2.7"/><circle cx="221.0" cy="395.6" r="2.7"/><circle cx="213.0" cy="401.0" r="2.7"/><circle cx="211.0" cy="405.0" r="2.7"/><circle cx="207.0" cy="396.0" r="2.7"/><circle cx="205.0" cy="400.0" r="2.7"/><circle cx="201.0" cy="394.0" r="2.7"/><circle cx="192.0" cy="394.0" r="2.7"/><circle cx="186.0" cy="393.0" r="2.7"/><circle cx="179.0" cy="393.0" r="2.7"/><circle cx="172.0" cy="393.0" r="2.7"/><circle cx="172.0" cy="399.0" r="2.7"/><circle cx="180.0" cy="399.0" r="2.7"/><circle cx="183.0" cy="402.0" r="2.7"/><circle cx="197.0" cy="405.4" r="2.7"/><circle cx="205.0" cy="409.0" r="2.7"/><circle cx="170.0" cy="421.0" r="2.7"/><circle cx="196.0" cy="400.0" r="2.7"/><circle cx="188.0" cy="403.0" r="2.7"/><circle cx="180.0" cy="410.0" r="2.7"/><circle cx="187.0" cy="411.0" r="2.7"/><circle cx="268.6" cy="316.0" r="2.7"/><circle cx="278.4" cy="319.6" r="2.7"/><circle cx="253.6" cy="322.0" r="2.7"/><circle cx="242.0" cy="324.6" r="2.7"/><circle cx="256.0" cy="326.0" r="2.7"/><circle cx="249.0" cy="329.0" r="2.7"/><circle cx="257.6" cy="329.4" r="2.7"/><circle cx="242.4" cy="331.0" r="2.7"/><circle cx="242.0" cy="339.0" r="2.7"/><circle cx="261.4" cy="343.4" r="2.7"/><circle cx="247.0" cy="343.6" r="2.7"/><circle cx="256.6" cy="345.6" r="2.7"/><circle cx="244.0" cy="345.6" r="2.7"/><circle cx="248.0" cy="349.0" r="2.7"/><circle cx="253.6" cy="353.0" r="2.7"/><circle cx="245.4" cy="354.6" r="2.7"/><circle cx="250.0" cy="357.0" r="2.7"/><circle cx="253.0" cy="356.0" r="2.7"/><circle cx="262.0" cy="357.0" r="2.7"/><circle cx="250.4" cy="363.6" r="2.7"/><circle cx="259.4" cy="364.6" r="2.7"/><circle cx="167.0" cy="338.0" r="2.7"/><circle cx="167.0" cy="359.0" r="2.7"/><circle cx="167.0" cy="365.0" r="2.7"/><circle cx="160.0" cy="392.0" r="2.7"/><circle cx="169.0" cy="343.0" r="2.7"/><circle cx="169.0" cy="378.0" r="2.7"/><circle cx="237.0" cy="369.0" r="2.7"/><circle cx="237.0" cy="363.0" r="2.7"/><circle cx="169.0" cy="403.0" r="2.7"/><circle cx="168.0" cy="415.0" r="2.7"/><circle cx="239.0" cy="337.0" r="2.7"/><circle cx="238.0" cy="359.0" r="2.7"/></g>
<g fill="#064206"><circle cx="161.0" cy="418.0" r="2.7"/><circle cx="160.0" cy="430.0" r="2.7"/><circle cx="165.0" cy="427.0" r="2.7"/><circle cx="139.4" cy="439.6" r="2.7"/><circle cx="161.0" cy="438.0" r="2.7"/><circle cx="120.0" cy="442.4" r="2.7"/><circle cx="158.0" cy="443.4" r="2.7"/><circle cx="152.0" cy="447.6" r="2.7"/><circle cx="126.0" cy="451.0" r="2.7"/><circle cx="138.0" cy="451.0" r="2.7"/><circle cx="133.0" cy="453.0" r="2.7"/><circle cx="121.0" cy="455.0" r="2.7"/><circle cx="138.0" cy="461.0" r="2.7"/><circle cx="143.6" cy="461.0" r="2.7"/><circle cx="147.0" cy="463.0" r="2.7"/><circle cx="121.0" cy="461.6" r="2.7"/><circle cx="117.0" cy="463.6" r="2.7"/><circle cx="134.0" cy="471.6" r="2.7"/><circle cx="202.0" cy="412.0" r="2.7"/><circle cx="198.0" cy="417.0" r="2.7"/><circle cx="201.0" cy="417.0" r="2.7"/><circle cx="187.0" cy="418.0" r="2.7"/><circle cx="192.0" cy="421.4" r="2.7"/><circle cx="199.0" cy="421.0" r="2.7"/><circle cx="177.0" cy="422.0" r="2.7"/><circle cx="182.0" cy="423.0" r="2.7"/><circle cx="201.0" cy="425.0" r="2.7"/><circle cx="188.0" cy="426.0" r="2.7"/><circle cx="174.0" cy="428.0" r="2.7"/><circle cx="180.0" cy="428.0" r="2.7"/><circle cx="184.0" cy="429.0" r="2.7"/><circle cx="195.0" cy="430.0" r="2.7"/><circle cx="176.0" cy="432.0" r="2.7"/><circle cx="180.0" cy="433.0" r="2.7"/><circle cx="185.0" cy="433.0" r="2.7"/><circle cx="173.0" cy="436.0" r="2.7"/><circle cx="184.0" cy="451.0" r="2.7"/><circle cx="171.6" cy="464.0" r="2.7"/><circle cx="290.6" cy="386.6" r="2.7"/><circle cx="268.0" cy="413.0" r="2.7"/><circle cx="169.0" cy="427.0" r="2.7"/><circle cx="169.0" cy="434.0" r="2.7"/><circle cx="168.0" cy="431.0" r="2.7"/></g>
<g fill="#0cf50c"><circle cx="150.6" cy="329.4" r="2.7"/><circle cx="166.0" cy="376.0" r="2.7"/><circle cx="163.0" cy="378.0" r="2.7"/><circle cx="166.0" cy="407.4" r="2.7"/><circle cx="141.6" cy="417.0" r="2.7"/><circle cx="166.0" cy="417.0" r="2.7"/><circle cx="161.6" cy="424.0" r="2.7"/><circle cx="154.6" cy="430.0" r="2.7"/><circle cx="156.0" cy="439.0" r="2.7"/><circle cx="145.6" cy="443.6" r="2.7"/><circle cx="136.0" cy="456.0" r="2.7"/><circle cx="106.4" cy="458.4" r="2.7"/><circle cx="232.0" cy="335.4" r="2.7"/><circle cx="196.0" cy="340.6" r="2.7"/><circle cx="209.4" cy="343.0" r="2.7"/><circle cx="227.0" cy="344.0" r="2.7"/><circle cx="230.0" cy="342.0" r="2.7"/><circle cx="214.4" cy="348.0" r="2.7"/><circle cx="219.6" cy="348.4" r="2.7"/><circle cx="206.6" cy="350.0" r="2.7"/><circle cx="202.4" cy="352.0" r="2.7"/><circle cx="225.0" cy="353.0" r="2.7"/><circle cx="231.0" cy="353.0" r="2.7"/><circle cx="221.0" cy="355.4" r="2.7"/><circle cx="205.0" cy="359.0" r="2.7"/><circle cx="209.6" cy="360.0" r="2.7"/><circle cx="223.6" cy="360.6" r="2.7"/><circle cx="233.0" cy="360.4" r="2.7"/><circle cx="218.0" cy="363.6" r="2.7"/><circle cx="211.4" cy="365.0" r="2.7"/><circle cx="200.0" cy="366.0" r="2.7"/><circle cx="194.6" cy="370.0" r="2.7"/><circle cx="214.0" cy="370.6" r="2.7"/><circle cx="182.6" cy="374.6" r="2.7"/><circle cx="194.6" cy="377.4" r="2.7"/><circle cx="207.0" cy="381.6" r="2.7"/><circle cx="190.0" cy="387.6" r="2.7"/><circle cx="187.6" cy="397.6" r="2.7"/><circle cx="192.6" cy="399.0" r="2.7"/><circle cx="196.0" cy="399.6" r="2.7"/><circle cx="202.4" cy="401.6" r="2.7"/><circle cx="179.4" cy="404.6" r="2.7"/><circle cx="174.6" cy="406.0" r="2.7"/><circle cx="202.0" cy="406.6" r="2.7"/><circle cx="192.0" cy="409.6" r="2.7"/><circle cx="198.6" cy="410.0" r="2.7"/><circle cx="178.0" cy="410.4" r="2.7"/><circle cx="174.6" cy="410.4" r="2.7"/><circle cx="176.6" cy="415.0" r="2.7"/><circle cx="248.4" cy="338.4" r="2.7"/><circle cx="245.6" cy="338.8" r="2.7"/><circle cx="258.4" cy="337.4" r="2.7"/><circle cx="250.0" cy="378.6" r="2.7"/><circle cx="167.0" cy="334.4" r="2.7"/><circle cx="148.0" cy="390.0" r="2.7"/><circle cx="238.0" cy="344.0" r="2.7"/></g></g>
<rect x="28.6" y="284.6" width="312.3" height="218.4" fill="none" stroke="#333" stroke-width="0.75"/>
<path d="M28.6 502.9v-3.3M28.6 284.6v3.3M80.6 502.9v-3.3M80.6 284.6v3.3M132.7 502.9v-3.3M132.7 284.6v3.3M184.7 502.9v-3.3M184.7 284.6v3.3M236.8 502.9v-3.3M236.8 284.6v3.3M288.8 502.9v-3.3M288.8 284.6v3.3M340.9 502.9v-3.3M340.9 284.6v3.3M28.6 502.9h3.3M340.9 502.9h-3.3M28.6 459.3h3.3M340.9 459.3h-3.3M28.6 415.6h3.3M340.9 415.6h-3.3M28.6 371.9h3.3M340.9 371.9h-3.3M28.6 328.2h3.3M340.9 328.2h-3.3M28.6 284.5h3.3M340.9 284.5h-3.3" stroke="#2a2a2a" stroke-width="0.7" fill="none"/>
<text x="28.6" y="515.4" text-anchor="middle" class="tk">0.4</text>
<text x="80.6" y="515.4" text-anchor="middle" class="tk">0.6</text>
<text x="132.7" y="515.4" text-anchor="middle" class="tk">0.8</text>
<text x="184.7" y="515.4" text-anchor="middle" class="tk">1.0</text>
<text x="236.8" y="515.4" text-anchor="middle" class="tk">1.2</text>
<text x="288.8" y="515.4" text-anchor="middle" class="tk">1.4</text>
<text x="340.9" y="515.4" text-anchor="middle" class="tk">1.6</text>
<text x="24.0" y="505.8" text-anchor="end" class="tk">-1</text>
<text x="24.0" y="462.2" text-anchor="end" class="tk">0</text>
<text x="24.0" y="418.5" text-anchor="end" class="tk">1</text>
<text x="24.0" y="374.8" text-anchor="end" class="tk">2</text>
<text x="24.0" y="331.1" text-anchor="end" class="tk">3</text>
<text x="24.0" y="287.4" text-anchor="end" class="tk">4</text>
<rect x="212.1" y="447.2" width="120.5" height="51.0" fill="#fff" stroke="#333" stroke-width="0.75"/>
<circle cx="228.1" cy="458.2" r="2.7" fill="#7f0505" class="lg"/>
<text x="243.3" y="461.3" class="lt">Non-Host Limit</text>
<circle cx="228.1" cy="467.9" r="2.7" fill="#fb7f08" class="lg"/>
<text x="243.3" y="471.1" class="lt">Non-Host Abundance</text>
<circle cx="228.1" cy="477.7" r="2.7" fill="#064206" class="lg"/>
<text x="243.3" y="480.8" class="lt">Host Limit</text>
<circle cx="228.1" cy="487.4" r="2.7" fill="#0cf50c" class="lg"/>
<text x="243.3" y="490.6" class="lt">Host Abundance</text>
<text x="185.6" y="534.6" text-anchor="middle" class="ax">Solar Masses</text>
<text transform="translate(7.4 393.5) rotate(-90)" text-anchor="middle" class="ax">Lithium</text>
</svg>
</body></html>
